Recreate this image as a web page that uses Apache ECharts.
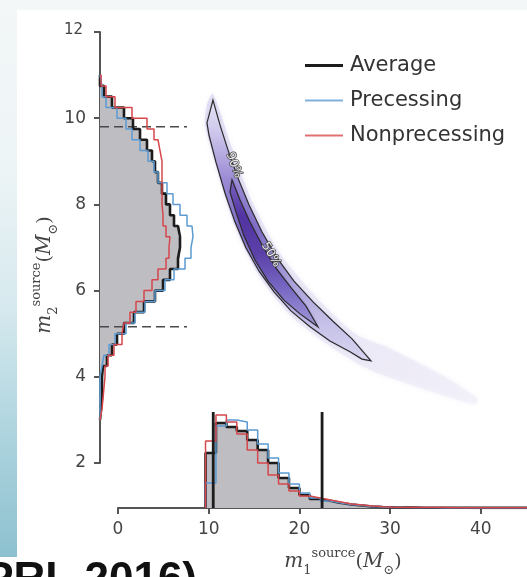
<!DOCTYPE html>
<html><head><meta charset="utf-8">
<script src="https://cdn.jsdelivr.net/npm/echarts@6/dist/echarts.min.js"></script>
<style>html,body{margin:0;padding:0;background:#fff;} #c{width:527px;height:577px;}</style>
</head><body><div id="c"></div>
<script>
// ---------------- data ----------------
const seriesNames = ['Average', 'Precessing', 'Nonprecessing'];
// m2 marginal histogram (bins of 0.25 starting at 3.0), arbitrary density units
const m2BinStart = 3.0, m2BinWidth = 0.25;
const m2Average = [1,2,2,2,3,7,12,17,24,34,44,55,63,70,78,80,80,78,74,70,66,62,58,55,52,47,40,33,24,12,4,0];
const m2Precessing = [0,0,0,0,2,4,9,15,26,35,45,55,65,74,85,91,93,92,87,80,73,67,58,54,48,40,32,26,17,6,2,0];
const m2Nonprecessing = [2,3,4,5,5,8,14,22,24,30,36,44,52,58,66,69,70,66,63,62,62,62,62,62,60,58,54,47,32,15,6,1];
// m1 marginal histogram (bins of 1.15 starting at 9.65)
const m1BinStart = 9.65, m1BinWidth = 1.15;
const m1Average = [55,85,81,77,68,58,45,30,20,13,9,7,5,3.5,2.5,1.5,1,0.7,0.5,0.4,0.3,0.3,0.2,0.2,0.2,0.1,0.1,0.1,0.1,0.1,0.1];
const m1Precessing = [25,82,88,86,78,64,50,35,24,15,10,7,5,3.5,2.5,1.5,1,0.6,0.4,0.3,0.2,0.2,0.1,0.1,0.1,0.1,0.1,0.1,0.1,0.1,0.1];
const m1Nonprecessing = [67,93,86,74,58,45,33,24,17,12,10,8,6,4,3,2,1.2,0.8,0.6,0.5,0.5,0.4,0.4,0.3,0.3,0.3,0.3,0.3,0.3,0.3,0.3];
// 90% credible bounds
const m1Interval = [10.5, 22.5];
const m2Interval = [5.16, 9.8];
// 2D credible contours (m1, m2)
const contour90M1 = [10.47,11.25,12.13,13.23,14.44,15.88,17.53,19.40,21.50,23.70,25.80,27.89,26.90,25.58,23.37,21.17,19.07,17.20,15.55,14.11,12.90,11.80,10.80,10.03,9.81];
const contour90M2 = [10.42,9.84,9.26,8.61,7.99,7.36,6.76,6.22,5.74,5.29,4.88,4.37,4.41,4.58,4.83,5.16,5.53,5.97,6.45,6.99,7.59,8.26,8.98,9.61,9.89];
const contour50M1 = [12.57,13.45,14.55,15.88,17.42,19.18,20.73,22.05,20.07,18.30,16.54,15.10,13.89,13.01,12.35];
const contour50M2 = [8.57,8.10,7.59,7.06,6.52,6.04,5.64,5.16,5.46,5.78,6.22,6.71,7.27,7.82,8.29];
// faint posterior density envelope (with tail towards large m1)
const haloM1 = [10.47,12.57,14.88,17.97,21.94,26.24,29.44,32.52,36.05,39.69,39.25,34.40,28.89,26.90,23.37,19.07,15.55,12.90,10.80,9.59,9.81];
const haloM2 = [10.56,9.31,8.03,6.83,5.83,4.99,4.71,4.39,4.00,3.48,3.37,3.67,4.06,4.25,4.71,5.41,6.34,7.48,8.91,9.87,10.31];
const contourLabels = ['90%', '50%'];
const contourLabelM1 = [12.79, 16.87];
const contourLabelM2 = [8.91, 6.83];
const contourLabelAngle = [-70, -59];
const xTicks = [0, 10, 20, 30, 40];
const yTicks = [2, 4, 6, 8, 10, 12];

// ---------------- helpers ----------------
const colors = { Average: '#1c1c1c', Precessing: '#5b9bd2', Nonprecessing: '#d5474c' };
const widths = { Average: 2.6, Precessing: 1.5, Nonprecessing: 1.5 };
function stepPts(start, width, counts) {
  const pts = [[start, 0]];
  counts.forEach((c, i) => { pts.push([start + i * width, c]); pts.push([start + (i + 1) * width, c]); });
  pts.push([start + counts.length * width, 0]);
  return pts; // [binAxisValue, count]
}
const swap = p => [p[1], p[0]];
const m2Data = { Average: m2Average, Precessing: m2Precessing, Nonprecessing: m2Nonprecessing };
const m1Data = { Average: m1Average, Precessing: m1Precessing, Nonprecessing: m1Nonprecessing };

const series = [];
const m2FillPts = stepPts(m2BinStart, m2BinWidth, m2Average).map(swap);
series.push({ type: 'custom', xAxisIndex: 0, yAxisIndex: 0, data: [[0, 0]], silent: true,
  renderItem: (p, api) => ({ type: 'polygon', shape: { points: m2FillPts.map(q => api.coord(q)) }, style: { fill: '#bdbdc2' } }) });
const m1FillPts = stepPts(m1BinStart, m1BinWidth, m1Average);
series.push({ type: 'custom', xAxisIndex: 1, yAxisIndex: 1, data: [[0, 0]], silent: true,
  renderItem: (p, api) => ({ type: 'polygon', shape: { points: m1FillPts.map(q => api.coord(q)) }, style: { fill: '#bdbdc2' } }) });
series.push({ type: 'custom', xAxisIndex: 0, yAxisIndex: 0, data: m2Interval.map(v => [0, v]), silent: true,
  renderItem: (p, api) => { const v = m2Interval[p.dataIndex]; const a = api.coord([0, v]), b = api.coord([87, v]);
    return { type: 'line', shape: { x1: a[0], y1: a[1], x2: b[0], y2: b[1] }, style: { stroke: '#4a4a4a', lineWidth: 1.6, lineDash: [9, 5] } }; } });
seriesNames.forEach(n => {
  series.push({ name: n, type: 'line', xAxisIndex: 0, yAxisIndex: 0, symbol: 'none', color: colors[n],
    lineStyle: { width: widths[n], color: colors[n] }, data: stepPts(m2BinStart, m2BinWidth, m2Data[n]).map(swap), z: 3 });
  series.push({ name: n, type: 'line', xAxisIndex: 1, yAxisIndex: 1, symbol: 'none', color: colors[n],
    lineStyle: { width: widths[n], color: colors[n] }, data: stepPts(m1BinStart, m1BinWidth, m1Data[n]), z: 3 });
});
series.push({ type: 'custom', xAxisIndex: 1, yAxisIndex: 1, data: m1Interval.map(v => [v, 0]), silent: true, z: 4,
  renderItem: (p, api) => { const v = m1Interval[p.dataIndex]; const a = api.coord([v, 0]), b = api.coord([v, 96]);
    return { type: 'line', shape: { x1: a[0], y1: a[1], x2: b[0], y2: b[1] }, style: { stroke: '#1c1c1c', lineWidth: 2.8 } }; } });
const zipPts = (xs, ys) => xs.map((x, i) => [x, ys[i]]);
series.push({ type: 'custom', xAxisIndex: 2, yAxisIndex: 2, data: [[0, 0]], silent: true, z: 1,
  renderItem: (p, api) => {
    const halo = zipPts(haloM1, haloM2).map(q => api.coord(q));
    const c90 = zipPts(contour90M1, contour90M2).map(q => api.coord(q));
    const c50 = zipPts(contour50M1, contour50M2).map(q => api.coord(q));
    const LG = echarts.graphic.LinearGradient;
    return { type: 'group', children: [
      { type: 'polygon', shape: { points: halo, smooth: 0.25 }, style: { fill: new LG(0, 0, 1, 1, [
          { offset: 0, color: 'rgba(214,208,238,0.65)' }, { offset: 0.6, color: 'rgba(228,224,243,0.6)' }, { offset: 1, color: 'rgba(240,238,247,0.55)' }]),
          shadowBlur: 5, shadowColor: 'rgba(228,224,244,0.8)' } },
      { type: 'polygon', shape: { points: c90 }, style: { fill: new LG(0, 0, 0, 1, [
          { offset: 0, color: '#e6e3f4' }, { offset: 0.12, color: '#cfc8ec' }, { offset: 0.3, color: '#9c8cd4' },
          { offset: 0.5, color: '#7e6cc4' }, { offset: 0.7, color: '#aaa2da' }, { offset: 0.86, color: '#c6c1e8' }, { offset: 1, color: '#d8d5f0' }]),
          shadowBlur: 3, shadowColor: 'rgba(180,170,225,0.6)' } },
      { type: 'polygon', shape: { points: c50 }, style: { fill: new LG(0, 0, 0, 1, [
          { offset: 0, color: '#7a62c0' }, { offset: 0.25, color: '#5234a2' }, { offset: 0.5, color: '#5a40a8' },
          { offset: 0.75, color: '#7a6ac4' }, { offset: 1, color: '#a098d8' }]), shadowBlur: 3, shadowColor: 'rgba(90,64,168,0.5)' } },
      { type: 'polygon', shape: { points: c90 }, style: { fill: null, stroke: '#2a2a2a', lineWidth: 1.2 } },
      { type: 'polygon', shape: { points: c50 }, style: { fill: null, stroke: '#2a2a2a', lineWidth: 1.2 } }
    ] };
  } });
series.push({ type: 'custom', xAxisIndex: 2, yAxisIndex: 2, data: contourLabels.map((t, i) => [contourLabelM1[i], contourLabelM2[i]]), silent: true, z: 5,
  renderItem: (p, api) => { const i = p.dataIndex; const c = api.coord([contourLabelM1[i], contourLabelM2[i]]);
    return { type: 'text', x: c[0], y: c[1], rotation: contourLabelAngle[i] * Math.PI / 180,
      style: { text: contourLabels[i], font: '12px "DejaVu Sans"', fill: '#eeeeee', stroke: '#444', lineWidth: 1.4, align: 'center', verticalAlign: 'middle' } }; } });

const axisCol = '#555';
const titleRich = {
  mi: { fontFamily: '"DejaVu Serif"', fontStyle: 'italic', fontSize: 20, lineHeight: 30, color: '#444' },
  rm: { fontFamily: '"DejaVu Serif"', fontSize: 19, lineHeight: 30, color: '#444' },
  sup: { fontFamily: '"DejaVu Serif"', fontSize: 13, lineHeight: 15, verticalAlign: 'top', color: '#444' },
  sub: { fontFamily: '"DejaVu Serif"', fontSize: 13, lineHeight: 15, verticalAlign: 'bottom', color: '#444' }
};
const titleText = k => `{mi|m}{sub|${k}}{sup|source}{rm|(}{mi|M}{sub|⊙}{rm|)}`;

const option = {
  animation: false,
  backgroundColor: '#ffffff',
  grid: [
    { left: 100, top: 32, width: 150, height: 431, containLabel: false, outerBoundsMode: 'none' },
    { left: 118, top: 358, width: 450, height: 150, containLabel: false, outerBoundsMode: 'none' },
    { left: 118, top: 32, width: 450, height: 431, containLabel: false, outerBoundsMode: 'none' }
  ],
  xAxis: [
    { gridIndex: 0, type: 'value', min: 0, max: 150, show: false, splitLine: { show: false } },
    { gridIndex: 1, type: 'value', min: 0, max: 450 / 9.07, position: 'bottom',
      axisLine: { show: true, lineStyle: { color: axisCol, width: 2 } },
      axisTick: { show: true, length: 6, lineStyle: { color: axisCol, width: 2 }, customValues: xTicks },
      axisLabel: { customValues: xTicks, fontSize: 17, color: '#444', margin: 13, fontFamily: 'DejaVu Sans' },
      splitLine: { show: false } },
    { gridIndex: 2, type: 'value', min: 0, max: 450 / 9.07, show: false, splitLine: { show: false } }
  ],
  yAxis: [
    { gridIndex: 0, type: 'value', min: 2, max: 12, interval: 2, position: 'left',
      axisLine: { show: true, lineStyle: { color: axisCol, width: 2 } },
      axisTick: { show: true, length: 6, lineStyle: { color: axisCol, width: 2 } },
      axisLabel: { fontSize: 17, color: '#444', margin: 14, fontFamily: 'DejaVu Sans',
        formatter: v => v === 12 ? '{s|12}' : String(v), rich: { s: { fontSize: 15, color: '#444', fontFamily: 'DejaVu Sans', padding: [0, 3, 4, 0] } } },
      splitLine: { show: false } },
    { gridIndex: 1, type: 'value', min: 0, max: 150, show: false, splitLine: { show: false } },
    { gridIndex: 2, type: 'value', min: 2, max: 12, show: false, splitLine: { show: false } }
  ],
  legend: {
    orient: 'vertical', left: 300, top: 50, itemWidth: 38, itemHeight: 14, itemGap: 14, selectedMode: false,
    data: [
      { name: 'Average', icon: 'path://M0,0H40V3H0Z' },
      { name: 'Precessing', icon: 'path://M0,0H40V2H0Z', itemStyle: { color: '#7fb2dc' } },
      { name: 'Nonprecessing', icon: 'path://M0,0H40V2H0Z', itemStyle: { color: '#e07070' } }
    ],
    textStyle: { fontSize: 21, color: '#333', fontFamily: 'DejaVu Sans', padding: [0, 0, 0, 2] }
  },
  graphic: [
    { type: 'rect', z: -10, shape: { x: 0, y: 0, width: 527, height: 10 }, style: { fill: '#f3f7f8' } },
    { type: 'rect', z: -10, shape: { x: 0, y: 0, width: 17, height: 557 }, style: { fill: new echarts.graphic.LinearGradient(0, 0, 0, 1, [
        { offset: 0, color: '#f3f7f8' }, { offset: 0.3, color: '#edf4f6' }, { offset: 0.55, color: '#d6e9ee' }, { offset: 0.8, color: '#aad2dd' }, { offset: 1, color: '#8dc1cf' }]) } },
    { type: 'text', x: 197, y: 581, style: { text: 'PRL 2016)', font: 'bold 44px "Liberation Sans"', fill: '#111', align: 'right', verticalAlign: 'middle' } },
    { type: 'text', x: 343, y: 562, style: { text: titleText(1), rich: titleRich, align: 'center', verticalAlign: 'middle', fill: '#444' } },
    { type: 'text', x: 45, y: 275, rotation: Math.PI / 2, style: { text: titleText(2), rich: titleRich, align: 'center', verticalAlign: 'middle', fill: '#444' } }
  ],
  series
};
const chart = echarts.init(document.getElementById('c'), null, { renderer: 'canvas' });
chart.setOption(option);
</script></body></html>
